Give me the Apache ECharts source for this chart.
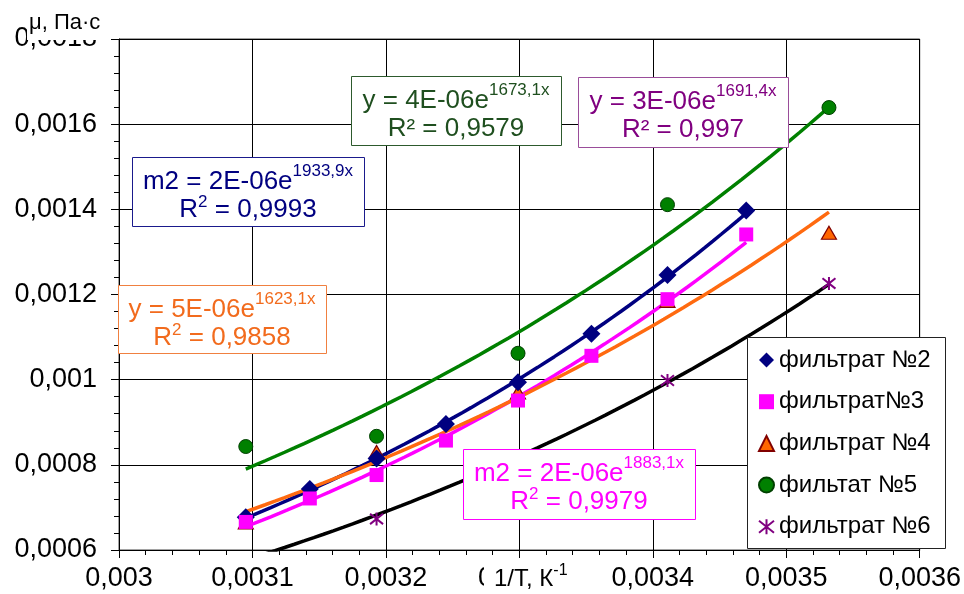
<!DOCTYPE html>
<html><head><meta charset="utf-8">
<script src="https://cdn.jsdelivr.net/npm/echarts@6/dist/echarts.min.js"></script>
<style>html,body{margin:0;padding:0;background:#fff}#c{width:964px;height:594px}</style>
</head><body><div id="c"></div>
<script>
// ---- data ----
const xTicks = [0.003, 0.0031, 0.0032, 0.0033, 0.0034, 0.0035, 0.0036];
const xTickLabels = ['0,003', '0,0031', '0,0032', '0,0033', '0,0034', '0,0035', '0,0036'];
const yTicks = [0.0006, 0.0008, 0.001, 0.0012, 0.0014, 0.0016, 0.0018];
const yTickLabels = ['0,0006', '0,0008', '0,001', '0,0012', '0,0014', '0,0016', '0,0018'];

const xFine = [0.003095, 0.003143, 0.003193, 0.003245, 0.003299, 0.003354, 0.003411, 0.003470];
const xCoarse = [0.003095, 0.003193, 0.003299, 0.003411, 0.003532];

const filtrate2 = [0.000677, 0.000743, 0.000815, 0.000896, 0.000994, 0.001108, 0.001246, 0.001397];
const filtrate3 = [0.000666, 0.000721, 0.000776, 0.000857, 0.000951, 0.001056, 0.001189, 0.001341];
const filtrate4 = [0.000665, 0.000830, 0.000970, 0.001185, 0.001345];
const filtrate5 = [0.000843, 0.000867, 0.001062, 0.001411, 0.001639];
const filtrate6 = [0.000583, 0.000673, 0.000815, 0.000998, 0.001226];

const seriesNames = ['фильтрат №2', 'фильтрат№3', 'фильтрат №4', 'фильтат №5', 'фильтрат №6'];

const eqLines = [
  {main: 'm2 = 2E-06e', sup: '1933,9x', r2: '0,9993', uni: false},
  {main: 'y = 4E-06e', sup: '1673,1x', r2: '0,9579', uni: true},
  {main: 'y = 3E-06e', sup: '1691,4x', r2: '0,997', uni: true},
  {main: 'y = 5E-06e', sup: '1623,1x', r2: '0,9858', uni: false},
  {main: 'm2 = 2E-06e', sup: '1883,1x', r2: '0,9979', uni: false}
];
// ---- end data ----

const FONT = "'Liberation Sans', Arial, sans-serif";
const C2 = '#000080', C3 = '#ff00ff', C4 = '#ff6a10', C5 = '#008000', C6 = '#800080';

function pairs(xs, ys) { return xs.map((x, i) => [x, ys[i]]); }
function expTrend(xs, ys, steps) {
  const n = xs.length;
  const lx = xs, ly = ys.map(Math.log);
  const mx = lx.reduce((a, b) => a + b, 0) / n, my = ly.reduce((a, b) => a + b, 0) / n;
  let sxy = 0, sxx = 0;
  for (let i = 0; i < n; i++) { sxy += (lx[i] - mx) * (ly[i] - my); sxx += (lx[i] - mx) * (lx[i] - mx); }
  const b = sxy / sxx, a = Math.exp(my - b * mx);
  const x0 = Math.min(...xs), x1 = Math.max(...xs);
  const out = [];
  for (let i = 0; i <= steps; i++) { const x = x0 + (x1 - x0) * i / steps; out.push([x, a * Math.exp(b * x)]); }
  return out;
}
function tickFmt(ticks, labels) {
  return v => { const i = ticks.findIndex(t => Math.abs(t - v) < 1e-9); return i >= 0 ? labels[i] : ''; };
}
function trendSeries(xs, ys, color, z) {
  return {type: 'line', data: expTrend(xs, ys, 60), showSymbol: false, symbol: 'none', silent: true,
    lineStyle: {color: color, width: 3.5}, z: z, clip: true, animation: false};
}

function eqBox(b, eq) {
  const rich1 = {
    m: {fontSize: 26, fontFamily: FONT, fill: b.color, lineHeight: 32, verticalAlign: 'bottom'},
    s: {fontSize: 17, fontFamily: FONT, fill: b.color, lineHeight: 20, verticalAlign: 'top'}
  };
  const rich2 = {
    m: {fontSize: 26, fontFamily: FONT, fill: b.color, lineHeight: 29, verticalAlign: 'bottom'},
    s: {fontSize: 17, fontFamily: FONT, fill: b.color, lineHeight: 20, verticalAlign: 'top'}
  };
  const r2text = eq.uni ? '{m|R² = ' + eq.r2 + '}' : '{m|R}{s|2}{m| = ' + eq.r2 + '}';
  return [
    {type: 'rect', z: 100, shape: {x: b.x + 0.5, y: b.y + 0.5, width: b.w, height: b.h},
      style: {fill: '#fff', stroke: b.border, lineWidth: 1}},
    {type: 'text', z: 101, x: b.x + b.w / 2, y: b.y + 22,
      style: {text: '{m|' + eq.main + '}{s|' + eq.sup + '}', rich: rich1, align: 'center', verticalAlign: 'middle'}},
    {type: 'text', z: 101, x: b.x + b.w / 2, y: b.y + 51,
      style: {text: r2text, rich: rich2, align: 'center', verticalAlign: 'middle'}}
  ];
}

const boxes = [
  {x: 132, y: 157, w: 232, h: 69, color: '#000080', border: '#1a1a8c'},
  {x: 351, y: 76, w: 210, h: 69, color: '#1f4f1f', border: '#2d5a2d'},
  {x: 578, y: 77, w: 210, h: 70, color: '#800080', border: '#9a4d9a'},
  {x: 118, y: 285, w: 208, h: 68, color: '#f26b1d', border: '#f08040'},
  {x: 463, y: 449, w: 232, h: 70, color: '#ff00ff', border: '#ff00ff'}
];

let graphics = [];
boxes.forEach((b, i) => { graphics = graphics.concat(eqBox(b, eqLines[i])); });
graphics.push({type: 'rect', z: 3, shape: {x: 747.5, y: 337.5, width: 198, height: 211},
  style: {fill: '#fff', stroke: '#222', lineWidth: 1}});
graphics.push({type: 'text', z: 100, x: 27, y: 10,
  style: {text: 'μ, Па·с', font: '22px ' + FONT, fill: '#000', backgroundColor: '#fff', padding: [2, 3, 6, 2]}});
graphics.push({type: 'text', z: 100, x: 484, y: 561,
  style: {text: '{m|1/T, К}{s|-1}', backgroundColor: '#fff', padding: [2, 8, 8, 10],
    rich: {m: {fontSize: 24, fontFamily: FONT, fill: '#000', lineHeight: 28, verticalAlign: 'bottom'},
           s: {fontSize: 16, fontFamily: FONT, fill: '#000', lineHeight: 20, verticalAlign: 'top'}}}});

const asterisk = 'path://M5,0L5,10M0,1L10,9M0,9L10,1';

const option = {
  animation: false,
  backgroundColor: '#fff',
  grid: {left: 119, top: 39, right: 44, bottom: 44, show: true, borderColor: '#444', borderWidth: 1, backgroundColor: '#fff'},
  xAxis: {
    type: 'value', min: 0.003, max: 0.0036, interval: 0.0001,
    axisLine: {show: true, onZero: false, lineStyle: {color: '#000', width: 1}},
    axisTick: {show: true, length: 8, lineStyle: {color: '#000'}},
    minorTick: {show: true, splitNumber: 5, length: 5, lineStyle: {color: '#000'}},
    splitLine: {show: true, lineStyle: {color: '#000', width: 1}},
    axisLabel: {formatter: tickFmt(xTicks, xTickLabels), fontSize: 27, fontFamily: FONT, color: '#000', margin: 15, showMaxLabel: true, showMinLabel: true}
  },
  yAxis: {
    type: 'value', min: 0.0006, max: 0.0018, interval: 0.0002,
    axisLine: {show: true, onZero: false, lineStyle: {color: '#000', width: 1}},
    axisTick: {show: true, length: 8, lineStyle: {color: '#000'}},
    minorTick: {show: true, splitNumber: 5, length: 5, lineStyle: {color: '#000'}},
    splitLine: {show: true, lineStyle: {color: '#000', width: 1}},
    axisLabel: {formatter: tickFmt(yTicks, yTickLabels), fontSize: 27, fontFamily: FONT, color: '#000', margin: 22, showMaxLabel: true, showMinLabel: true}
  },
  legend: {
    orient: 'vertical', left: 758, top: 348, itemWidth: 15, itemHeight: 15, itemGap: 17.7, padding: 0, z: 10,
    data: seriesNames, selectedMode: false,
    textStyle: {fontSize: 24, fontFamily: FONT, color: '#000'}
  },
  graphic: {elements: graphics},
  series: [
    trendSeries(xFine, filtrate2, C2, 2),
    trendSeries(xFine, filtrate3, C3, 2),
    trendSeries(xCoarse, filtrate4, C4, 2),
    trendSeries(xCoarse, filtrate5, C5, 2),
    trendSeries(xCoarse, filtrate6, '#000', 2),
    {name: seriesNames[2], type: 'scatter', data: pairs(xCoarse, filtrate4), symbol: 'triangle', symbolSize: [15, 13],
      itemStyle: {color: '#ff6600', borderColor: '#800000', borderWidth: 1.2, opacity: 1}, z: 3, clip: true},
    {name: seriesNames[0], type: 'scatter', data: pairs(xFine, filtrate2), symbol: 'diamond', symbolSize: 18,
      itemStyle: {color: C2, opacity: 1}, z: 4, clip: true},
    {name: seriesNames[1], type: 'scatter', data: pairs(xFine, filtrate3), symbol: 'rect', symbolSize: 14,
      itemStyle: {color: C3, opacity: 1}, z: 4, clip: true},
    {name: seriesNames[3], type: 'scatter', data: pairs(xCoarse, filtrate5), symbol: 'circle', symbolSize: 14,
      itemStyle: {color: C5, borderColor: '#004000', borderWidth: 1, opacity: 1}, z: 4, clip: true},
    {name: seriesNames[4], type: 'scatter', data: pairs(xCoarse, filtrate6), symbol: asterisk, symbolSize: 13,
      itemStyle: {color: 'rgba(0,0,0,0)', borderColor: C6, borderWidth: 2, opacity: 1}, z: 4, clip: true}
  ]
};
const chart = echarts.init(document.getElementById('c'));
chart.setOption(option);
</script></body></html>
